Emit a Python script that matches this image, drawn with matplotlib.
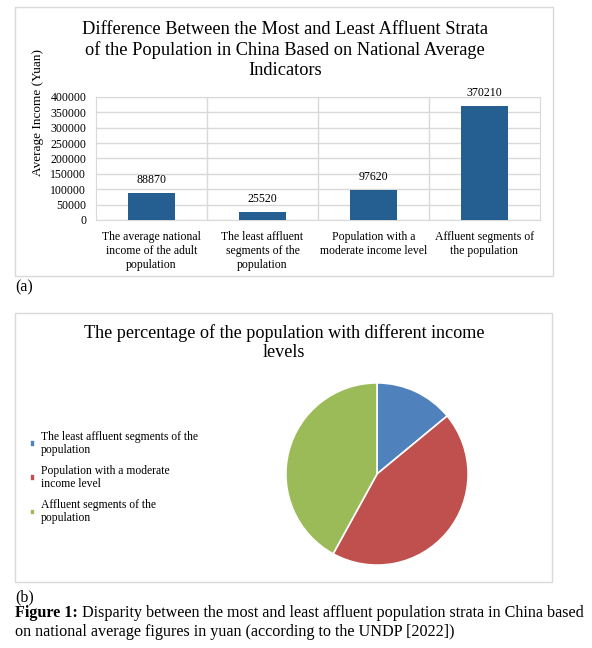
import matplotlib.pyplot as plt
from matplotlib.patches import Rectangle

plt.rcParams["font.family"] = ["Liberation Serif", "DejaVu Serif"]

# bar chart data
bar_categories = [
    "The average national\nincome of the adult\npopulation",
    "The least affluent\nsegments of the\npopulation",
    "Population with a\nmoderate income level",
    "Affluent segments of\nthe population",
]
bar_values = [88870, 25520, 97620, 370210]
y_ticks = [0, 50000, 100000, 150000, 200000, 250000, 300000, 350000, 400000]

# pie chart data (percent)
pie_labels = [
    "The least affluent segments of the\npopulation",
    "Population with a moderate\nincome level",
    "Affluent segments of the\npopulation",
]
pie_values = [14, 44, 42]
pie_colors = ["#4F81BD", "#C0504D", "#9BBB59"]

W, H = 592, 648


def px(x0, y0, x1, y1):
    # pixel box (top-left origin) -> figure fraction rect
    return [x0 / W, 1 - y1 / H, (x1 - x0) / W, (y1 - y0) / H]


fig = plt.figure(figsize=(W / 100, H / 100), dpi=100)

# chart frames
for box in [(15, 7, 553, 276), (15, 313, 552, 582)]:
    fig.patches.append(Rectangle((box[0] / W, 1 - box[3] / H),
                                 (box[2] - box[0]) / W, (box[3] - box[1]) / H,
                                 transform=fig.transFigure, fill=False,
                                 edgecolor="#D9D9D9", lw=1))

# ---- (a) bar chart ----
ax = fig.add_axes(px(96, 97, 540, 220))
x = range(len(bar_values))
bars = ax.bar(x, bar_values, width=0.42, color="#255E91", zorder=3)
ax.set_xlim(-0.5, len(bar_values) - 0.5)
ax.set_ylim(0, 400000)
ax.set_yticks(y_ticks)
ax.set_xticks(list(x))
ax.set_xticklabels(bar_categories, fontsize=8.5, linespacing=1.2)
ax.tick_params(axis="both", length=0)
ax.tick_params(axis="y", pad=7, labelsize=8.5)
ax.tick_params(axis="x", pad=8)
ax.yaxis.grid(True, color="#D9D9D9", lw=1, zorder=0)
for b in [0.5, 1.5, 2.5]:
    ax.axvline(b, color="#D9D9D9", lw=1, zorder=0)
for s in ax.spines.values():
    s.set_color("#D9D9D9")
for bar, v in zip(bars, bar_values):
    ax.annotate(str(v), (bar.get_x() + bar.get_width() / 2, v),
                xytext=(0, 5), textcoords="offset points",
                ha="center", va="bottom", fontsize=8.6)
fig.text(38 / W, 1 - 112 / H, "Average Income (Yuan)", rotation=90,
         ha="center", va="center", fontsize=9.5)
fig.text(285 / W, 1 - 50 / H,
         "Difference Between the Most and Least Affluent Strata\n"
         "of the Population in China Based on National Average\nIndicators",
         ha="center", va="center", fontsize=13.2, linespacing=1.25)
fig.text(15 / W, 1 - 287 / H, "(a)", ha="left", va="center", fontsize=11.5)

# ---- (b) pie chart ----
pax = fig.add_axes(px(285, 382, 469, 566))
wedges, _ = pax.pie(pie_values, colors=pie_colors, startangle=90,
                    counterclock=False,
                    wedgeprops=dict(edgecolor="white", linewidth=1.2))
pax.set_xlim(-1.01, 1.01)
pax.set_ylim(-1.01, 1.01)
fig.text(284 / W, 1 - 343 / H,
         "The percentage of the population with different income\nlevels",
         ha="center", va="center", fontsize=13.1, linespacing=1.15)
leg = fig.legend(wedges, pie_labels, loc="upper left",
                 bbox_to_anchor=(24 / W, 1 - 425 / H), frameon=False,
                 fontsize=8.4, handlelength=0.45, handleheight=0.45,
                 handletextpad=0.5, labelspacing=0.8, borderpad=0)
for t in leg.get_texts():
    t.set_linespacing(1.08)
fig.text(15 / W, 1 - 597 / H, "(b)", ha="left", va="center", fontsize=11.5)

# ---- caption ----
t = fig.text(15 / W, 1 - 613 / H, "Figure 1:", ha="left", va="center",
             fontsize=11.6, fontweight="bold")
r = fig.canvas.get_renderer()
bb = t.get_window_extent(renderer=r)
fig.text(bb.x1 / W, 1 - 613 / H,
         " Disparity between the most and least affluent population strata in China based",
         ha="left", va="center", fontsize=11.6)
fig.text(15 / W, 1 - 632 / H,
         "on national average figures in yuan (according to the UNDP [2022])",
         ha="left", va="center", fontsize=11.6)

fig.savefig("out.png", dpi=100)
